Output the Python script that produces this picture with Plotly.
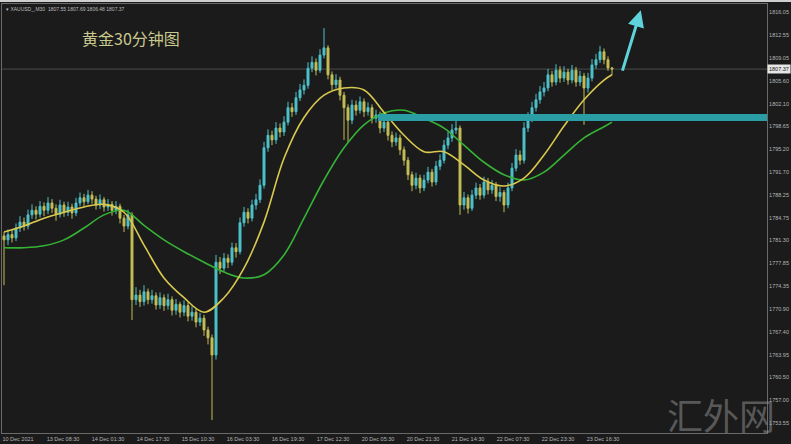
import plotly.graph_objects as go

# ---------------- data ----------------
x_labels = ["10 Dec 2021", "13 Dec 08:30", "14 Dec 01:30", "14 Dec 17:30", "15 Dec 10:30",
            "16 Dec 03:30", "16 Dec 19:30", "17 Dec 12:30", "20 Dec 05:30", "20 Dec 21:30",
            "21 Dec 14:30", "22 Dec 07:30", "22 Dec 23:30", "23 Dec 16:30"]

y_ticks = [1816.05, 1812.55, 1809.05, 1805.60, 1802.10, 1798.65, 1795.20, 1791.70, 1788.25,
           1784.75, 1781.30, 1777.85, 1774.35, 1770.90, 1767.40, 1763.95, 1760.50, 1757.00, 1753.55]

first_open = 1782.0
closes = [1781.4, 1782.2, 1781.7, 1783.2, 1784.1, 1783.5, 1785.2, 1785.9, 1785.3, 1786.5,
          1785.9, 1787.0, 1786.2, 1785.3, 1786.7, 1785.6, 1786.4, 1785.5, 1787.0, 1787.8,
          1787.2, 1788.2, 1787.6, 1786.7, 1787.5, 1786.4, 1786.8, 1785.9, 1786.5, 1784.7,
          1783.5, 1785.2, 1772.3, 1773.0, 1772.0, 1773.5, 1772.3, 1772.9, 1771.5, 1772.6,
          1771.4, 1772.3, 1770.7, 1771.6, 1770.4, 1771.4, 1769.8, 1770.4, 1768.9, 1769.5,
          1767.7, 1766.5, 1763.9, 1778.0, 1777.1, 1778.6, 1778.0, 1780.2, 1779.6, 1784.0,
          1785.6, 1784.7, 1786.7, 1787.5, 1789.7, 1795.4, 1797.3, 1796.6, 1798.4, 1797.8,
          1799.3, 1801.5, 1800.9, 1803.0, 1804.2, 1804.9, 1807.5, 1808.4, 1807.2, 1809.5,
          1810.6, 1806.5, 1805.0, 1805.7, 1803.4, 1801.5, 1799.6, 1801.9, 1801.1, 1802.4,
          1800.9, 1801.5, 1799.9, 1800.4, 1798.4, 1799.3, 1797.3, 1796.3, 1796.9, 1795.1,
          1793.5, 1791.3, 1789.7, 1790.8, 1789.3, 1790.5, 1791.7, 1790.2, 1792.6, 1793.5,
          1795.8, 1796.9, 1798.1, 1798.4, 1786.7, 1787.8, 1786.2, 1788.2, 1789.3, 1788.2,
          1790.2, 1789.0, 1789.7, 1788.0, 1788.6, 1786.7, 1789.3, 1792.3, 1794.3, 1793.5,
          1798.4, 1799.9, 1801.5, 1802.7, 1803.9, 1804.5, 1806.5, 1805.4, 1807.2, 1806.0,
          1806.9, 1805.7, 1807.2, 1805.4, 1806.3, 1804.5, 1806.0, 1808.0, 1808.8, 1810.0,
          1808.8, 1807.55, 1807.37]

highs = [1782.6, 1783.0, 1782.9, 1783.9, 1785.0, 1784.8, 1786.0, 1786.8, 1786.5, 1787.3,
         1787.1, 1787.9, 1787.6, 1786.8, 1787.5, 1787.2, 1787.2, 1786.9, 1787.8, 1788.6,
         1788.4, 1789.0, 1788.8, 1788.1, 1788.3, 1787.9, 1787.6, 1787.3, 1787.3, 1786.9,
         1785.2, 1786.0, 1785.6, 1774.2, 1773.8, 1774.5, 1774.0, 1773.8, 1773.4, 1773.4,
         1773.1, 1773.2, 1772.8, 1772.4, 1772.0, 1772.2, 1771.9, 1771.3, 1770.9, 1770.3,
         1770.0, 1768.2, 1767.0, 1779.1, 1778.8, 1779.4, 1779.2, 1781.0, 1780.9, 1784.8,
         1786.4, 1786.2, 1787.5, 1788.4, 1790.6, 1796.3, 1798.2, 1798.0, 1799.3, 1799.1,
         1800.2, 1802.4, 1802.2, 1803.9, 1805.1, 1805.8, 1808.4, 1809.3, 1809.0, 1810.4,
         1813.6, 1811.0, 1807.0, 1806.6, 1806.2, 1803.9, 1802.0, 1802.7, 1802.6, 1803.2,
         1802.9, 1802.3, 1802.0, 1801.2, 1800.9, 1800.1, 1799.8, 1797.9, 1797.7, 1797.4,
         1795.6, 1794.0, 1791.8, 1791.6, 1791.3, 1791.3, 1792.5, 1792.2, 1793.4, 1794.4,
         1796.6, 1797.8, 1799.0, 1799.6, 1798.8, 1788.7, 1788.3, 1789.0, 1790.1, 1789.9,
         1791.0, 1790.8, 1790.5, 1790.2, 1789.4, 1789.0, 1790.1, 1793.1, 1795.2, 1795.0,
         1799.3, 1800.8, 1802.4, 1803.6, 1804.8, 1805.4, 1807.4, 1807.1, 1808.1, 1807.8,
         1807.8, 1807.4, 1808.0, 1807.7, 1807.1, 1806.8, 1806.8, 1808.9, 1809.7, 1810.9,
         1810.5, 1809.3, 1807.69]

lows = [1774.5, 1780.6, 1781.0, 1781.2, 1782.6, 1782.8, 1783.0, 1784.6, 1784.5, 1784.8,
        1785.0, 1785.3, 1785.5, 1784.3, 1784.8, 1784.9, 1785.0, 1784.6, 1785.0, 1786.5,
        1786.5, 1786.8, 1786.9, 1786.0, 1786.1, 1785.7, 1785.8, 1785.1, 1785.3, 1783.9,
        1782.6, 1783.0, 1769.2, 1771.5, 1771.2, 1771.4, 1771.6, 1771.7, 1770.8, 1770.9,
        1770.6, 1770.8, 1769.9, 1770.0, 1769.6, 1769.8, 1769.0, 1769.1, 1768.1, 1768.3,
        1766.8, 1765.5, 1754.0, 1763.2, 1776.2, 1776.6, 1777.1, 1777.5, 1778.7, 1779.2,
        1783.4, 1783.9, 1784.2, 1786.0, 1787.0, 1789.2, 1794.8, 1795.8, 1796.0, 1797.0,
        1797.2, 1798.8, 1800.1, 1800.4, 1802.5, 1803.5, 1804.4, 1806.9, 1806.4, 1806.8,
        1809.0, 1805.8, 1804.2, 1804.4, 1802.6, 1796.6, 1796.3, 1799.0, 1800.3, 1800.6,
        1800.1, 1800.3, 1799.1, 1799.2, 1797.6, 1797.8, 1796.5, 1795.5, 1795.7, 1794.3,
        1792.7, 1790.5, 1788.8, 1789.1, 1788.5, 1788.8, 1790.0, 1789.5, 1789.7, 1792.0,
        1793.0, 1795.2, 1796.3, 1797.5, 1785.2, 1786.0, 1785.4, 1785.8, 1787.6, 1787.5,
        1787.7, 1788.3, 1788.4, 1787.3, 1787.2, 1785.6, 1786.2, 1788.8, 1791.8, 1792.8,
        1793.0, 1797.8, 1799.3, 1800.9, 1802.1, 1803.2, 1804.0, 1804.7, 1804.9, 1805.3,
        1805.4, 1805.0, 1805.2, 1804.7, 1804.8, 1798.9, 1803.8, 1805.5, 1807.4, 1808.3,
        1808.1, 1807.1, 1806.48]

opens = [first_open] + closes[:-1]

ma_bars = [0, 5, 10, 15, 20, 25, 30, 35, 40, 45, 50, 55, 60, 65, 70, 75, 80, 85, 90, 95,
           100, 105, 110, 115, 120, 125, 130, 135, 140, 145, 150, 152]
ma_fast = [1782.6, 1783.5, 1784.7, 1785.6, 1786.4, 1786.8, 1785.6, 1780.6, 1775.6, 1772.6,
           1770.4, 1772.6, 1777.1, 1784.1, 1793.8, 1800.0, 1803.4, 1804.5, 1804.2, 1800.8,
           1797.3, 1794.8, 1794.8, 1792.8, 1790.5, 1789.6, 1790.8, 1794.3, 1798.7, 1802.7,
           1805.7, 1806.5]
ma_slow = [1780.2, 1780.2, 1780.5, 1781.4, 1783.2, 1785.2, 1785.9, 1783.6, 1781.4, 1779.6,
           1778.0, 1776.5, 1775.6, 1776.1, 1779.1, 1784.7, 1790.5, 1795.4, 1798.9, 1800.7,
           1801.1, 1799.9, 1798.4, 1795.8, 1793.2, 1791.3, 1790.5, 1791.7, 1794.3, 1796.9,
           1798.6, 1799.3]

level_price = 1800.0
level_start_bar = 93.5
last_price = 1807.37

# ---------------- figure ----------------
W, H = 791, 444
BG = "#1b1b1b"
UP = "#4cc2cc"
DN = "#c4bd55"
n = len(closes)
bars = list(range(n))

fig = go.Figure()
fig.add_trace(go.Candlestick(
    x=bars, open=opens, high=highs, low=lows, close=closes,
    increasing=dict(line=dict(color=UP, width=1), fillcolor=UP),
    decreasing=dict(line=dict(color=DN, width=1), fillcolor=DN),
    whiskerwidth=0, showlegend=False, hoverinfo="skip"))

fig.add_trace(go.Scatter(x=ma_bars, y=ma_slow, mode="lines", showlegend=False,
                         line=dict(color="#35b335", width=1.6, shape="spline", smoothing=1.0)))
fig.add_trace(go.Scatter(x=ma_bars, y=ma_fast, mode="lines", showlegend=False,
                         line=dict(color="#d9c94e", width=1.6, shape="spline", smoothing=1.0)))

# plot area: x pixels 2..767, y pixels 4..433 ; bar i drawn at pixel 4 + 4*i
x_lo, x_hi = (2 - 4) / 4, (767 - 4) / 4
px_per_unit = 6.576
y_hi = y_ticks[0] + (12 - 4) / px_per_unit
y_lo = y_ticks[0] - (433 - 12) / px_per_unit
tickvals_x = [(18 + 45 * k - 4) / 4 for k in range(len(x_labels))]

fig.update_layout(
    width=W, height=H,
    margin=dict(l=2, r=24, t=4, b=11),
    paper_bgcolor=BG, plot_bgcolor=BG,
    showlegend=False,
    font=dict(family="Arial, Liberation Sans, sans-serif", color="#b4b4b4"),
    xaxis=dict(range=[x_lo, x_hi], rangeslider=dict(visible=False), showgrid=False,
               zeroline=False, tickvals=tickvals_x, ticktext=x_labels, ticks="",
               tickfont=dict(size=5.5, color="#b4b4b4"), showline=True, mirror=True,
               linecolor="#6a6a6a", linewidth=1),
    yaxis=dict(range=[y_lo, y_hi], side="right", showgrid=False, zeroline=False,
               tickvals=y_ticks, ticktext=[f"{v:.2f}" for v in y_ticks], ticks="",
               tickfont=dict(size=5.5, color="#b4b4b4"), showline=True, mirror=True,
               linecolor="#6a6a6a", linewidth=1),
)

shapes = [
    dict(type="line", xref="paper", yref="y", x0=0, x1=1, y0=last_price, y1=last_price,
         line=dict(color="#4a4a4a", width=1), layer="below"),
    dict(type="line", xref="x", yref="y", x0=level_start_bar, x1=x_hi + 1, y0=level_price,
         y1=level_price, line=dict(color="#2a9ea4", width=7)),
    dict(type="rect", xref="paper", yref="paper", x0=-0.01, x1=1.04, y0=1.0047, y1=1.012,
         fillcolor="#cfcfcf", line=dict(width=0)),
]
fig.update_layout(shapes=shapes)

ann = [
    dict(xref="paper", yref="paper", x=0.102, y=0.921, xanchor="left", yanchor="middle",
         text="黄金30分钟图", showarrow=False,
         font=dict(family="Noto Sans CJK SC", size=16, color="#c9c98e")),
    dict(xref="paper", yref="paper", x=0.003, y=0.988, xanchor="left", yanchor="middle",
         text="▾ XAUUSD_,M30  1807.55 1807.69 1806.48 1807.37", showarrow=False,
         font=dict(size=5, color="#bdbdbd")),
    dict(xref="paper", yref="y", x=1.0, y=last_price, xanchor="left", yanchor="middle",
         text="1807.37", showarrow=False, bgcolor="#e6e6e6", borderpad=1,
         font=dict(size=5.5, color="#111111")),
    dict(xref="x", yref="y", x=159.2, y=1816.3, ax=154.5, ay=1806.9, axref="x", ayref="y",
         text="", showarrow=True, arrowhead=2, arrowsize=1.1, arrowwidth=3,
         arrowcolor="#5fd3dc"),
    dict(xref="paper", yref="paper", x=0.94, y=0.045, xanchor="center", yanchor="middle",
         text="汇外网", showarrow=False,
         font=dict(family="Noto Sans CJK SC", size=36, color="rgba(150,150,150,0.5)")),
]
fig.update_layout(annotations=ann)

fig.write_html("out.html", config={"displayModeBar": False},
               post_script="document.body.style.margin='0';document.body.style.background='#1b1b1b';")
